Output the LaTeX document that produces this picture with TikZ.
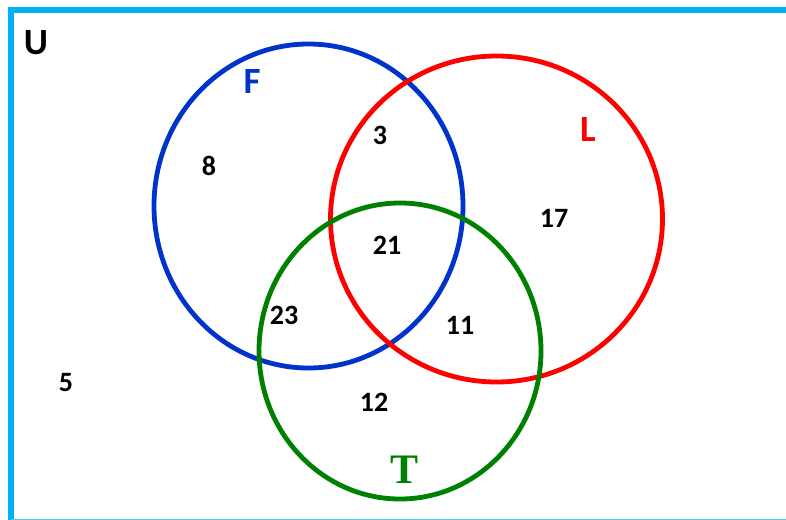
\documentclass[tikz,border=0pt]{standalone}
\usepackage{fontspec}
\setmainfont{Carlito}
\newfontfamily\serifT{Liberation Serif}
\definecolor{ubox}{RGB}{0,176,240}
\definecolor{fblue}{RGB}{0,51,204}
\definecolor{lred}{RGB}{255,0,0}
\definecolor{tgreen}{RGB}{0,128,0}
\begin{document}
\begin{tikzpicture}[x=1pt,y=-1pt,
  setline/.style={line width=4.8pt},
  num/.style={font=\fontsize{28}{28}\selectfont\bfseries, text=black},
  setlabel/.style={font=\fontsize{37}{37}\selectfont\bfseries}]
\useasboundingbox (0,0) rectangle (786,519);
\clip (0,0) rectangle (786,519);
\draw[ubox, line width=6pt] (11,520.5) -- (11,10) -- (800,10);
\draw[ubox!70, line width=3pt] (11,520) -- (800,520);
\node[font=\fontsize{37}{37}\selectfont\bfseries] (U) at (36,43) {U};
\node[setlabel, text=fblue] (F) at (252,82) {F};
\node[setlabel, text=lred] (L) at (588,130) {L};
\node[font=\serifT\fontsize{42}{42}\selectfont\bfseries, text=tgreen] (T) at (405,470) {T};
\draw[fblue, setline] (308.5,206) ellipse [x radius=154.5, y radius=162];
\draw[lred, setline] (496.5,219) ellipse [x radius=166, y radius=163];
\draw[tgreen, setline] (400,351) ellipse [x radius=141, y radius=148];
\node[num] (n8) at (209,166) {8};
\node[num] (n3) at (380,135) {3};
\node[num] (n17) at (554,218) {17};
\node[num] (n21) at (387,245) {21};
\node[num] (n23) at (284,315) {23};
\node[num] (n11) at (460,325) {11};
\node[num] (n5) at (66,383) {5};
\node[num] (n12) at (374,402) {12};
\end{tikzpicture}
\end{document}
